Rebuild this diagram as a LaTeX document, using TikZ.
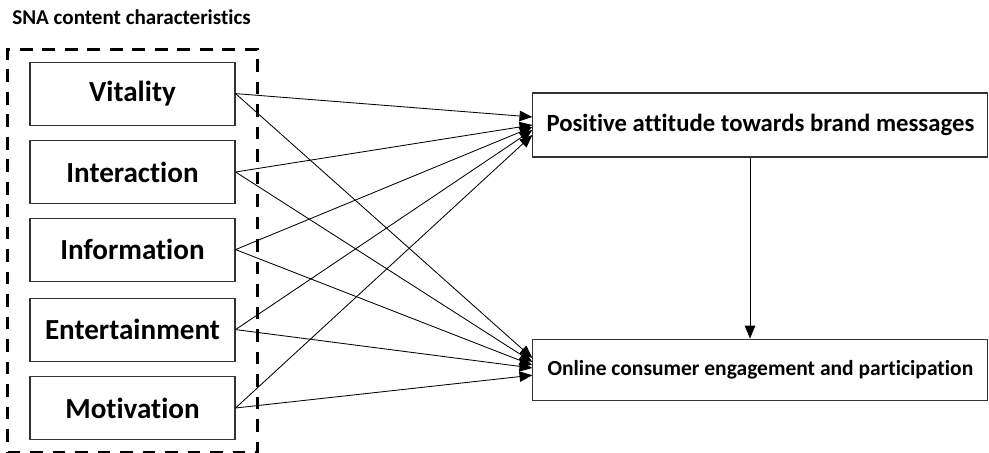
\documentclass[tikz,border=0pt]{standalone}
\usepackage{fontspec}
\setmainfont[Ligatures=NoCommon]{Carlito}
\usetikzlibrary{fit, arrows.meta, positioning}
\tikzstyle{factor} = [draw=black!80, line width=0.8pt, minimum width=5.125cm, minimum height=1.575cm,
                      font=\fontsize{20.7}{24}\selectfont\bfseries]
\tikzstyle{outcome} = [draw=black!80, line width=0.8pt, minimum width=11.375cm, minimum height=1.575cm,
                       font=\fontsize{17.6}{21}\selectfont\bfseries]
\tikzstyle{link} = [-{Triangle[length=0.32cm, width=0.26cm]}, line width=0.6pt]
\tikzstyle{group} = [draw, line width=2pt, dash pattern=on 9pt off 7pt, inner xsep=0.54cm, inner ysep=0.31cm]

\begin{document}
\begin{tikzpicture}
				\useasboundingbox (0, 0) rectangle (24.725, -11.325);

				\node (Title) [anchor=west, inner sep=0, font=\fontsize{15}{18}\selectfont\bfseries] at (0.3, -0.43) {SNA content characteristics};

				% content characteristics
				\node (Vitality) [factor] at (3.3125, -2.34) {Vitality};
				\node (Interaction) [factor] at (3.3125, -4.3) {Interaction};
				\node (Information) [factor] at (3.3125, -6.24) {Information};
				\node (Entertainment) [factor] at (3.3125, -8.24) {Entertainment};
				\node (Motivation) [factor] at (3.3125, -10.2) {Motivation};

				\node (Frame) [group, fit=(Vitality) (Motivation)] {};

				% outcomes
				\node (Attitude) [outcome, minimum height=1.6cm] at (19.01, -3.125) {Positive attitude towards brand messages};
				\node (Engagement) [outcome, minimum height=1.525cm, font=\fontsize{15.3}{19}\selectfont\bfseries] at (19.01, -9.24) {Online consumer engagement and participation};

				% paths to attitude
				\draw [link] (Vitality.east) -- ([yshift=0.2cm]Attitude.west);
				\draw [link] (Interaction.east) -- ([yshift=0cm]Attitude.west);
				\draw [link] (Information.east) -- ([yshift=-0.05cm]Attitude.west);
				\draw [link] (Entertainment.east) -- ([yshift=-0.125cm]Attitude.west);
				\draw [link] (Motivation.east) -- ([yshift=-0.25cm]Attitude.west);

				% paths to engagement
				\draw [link] (Vitality.east) -- ([yshift=0.29cm]Engagement.west);
				\draw [link] (Interaction.east) -- ([yshift=0.19cm]Engagement.west);
				\draw [link] (Information.east) -- ([yshift=0.11cm]Engagement.west);
				\draw [link] (Entertainment.east) -- ([yshift=0.04cm]Engagement.west);
				\draw [link] (Motivation.east) -- ([yshift=-0.14cm]Engagement.west);

				% attitude to engagement
				\draw [link] ([xshift=-0.26cm]Attitude.south) -- ([xshift=-0.26cm]Engagement.north);
			\end{tikzpicture}
\end{document}
